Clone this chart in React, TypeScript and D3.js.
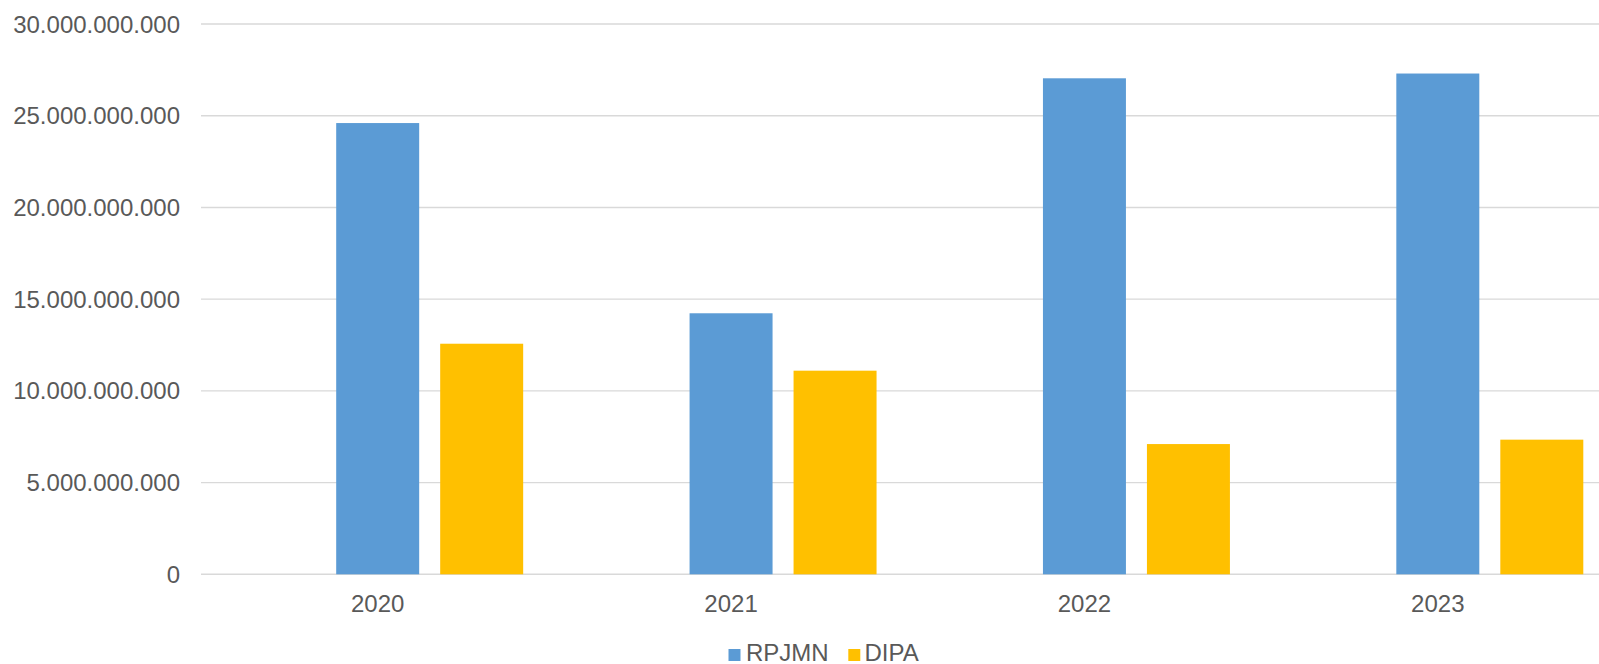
import React from "react";
import * as d3 from "d3";

const categories = ["2020", "2021", "2022", "2023"];
const seriesNames = ["RPJMN", "DIPA"];
const rpjmnValues = [24.6e9, 14.23e9, 27.04e9, 27.3e9];
const dipaValues = [12.57e9, 11.1e9, 7.1e9, 7.34e9];
const yTickValues = [0, 5e9, 10e9, 15e9, 20e9, 25e9, 30e9];
const seriesColors = ["#5B9BD5", "#FFC000"];
// Excel chart has an empty leading series slot, so bars sit right of centre
const seriesSlots = ["_blank", ...seriesNames];

const W = 1599;
const H = 664;
const FONT = "'Liberation Sans', Arial, sans-serif";
const TEXT = "#595959";

export default function App() {
  const x = d3.scaleBand<string>().domain(categories).range([201, 1614.5]).padding(0);
  const inner = d3
    .scaleBand<string>()
    .domain(seriesSlots)
    .range([0, x.bandwidth()])
    .paddingInner(0.202)
    .paddingOuter(0.3);
  const y = d3.scaleLinear().domain([0, 30e9]).range([574.3, 24]);
  const fmt = d3
    .formatLocale({ thousands: ".", decimal: ",", grouping: [3], currency: ["", ""] })
    .format(",.0f");

  const seriesData = [rpjmnValues, dipaValues];

  return (
    <svg
      width={W}
      height={H}
      style={{ position: "absolute", left: 0, top: 0, background: "#fff" }}
      fontFamily={FONT}
    >
      <rect x={0} y={0} width={W} height={H} fill="#fff" />
      {yTickValues.map((t) => (
        <g key={t}>
          <line x1={201} x2={W} y1={y(t)} y2={y(t)} stroke="#d9d9d9" strokeWidth={1.4} />
          <text x={180} y={y(t) + 8.5} textAnchor="end" fontSize={24} fill={TEXT}>
            {fmt(t)}
          </text>
        </g>
      ))}
      {seriesNames.map((s, si) =>
        categories.map((c, ci) => {
          const v = seriesData[si][ci];
          const bx = (x(c) as number) + (inner(s) as number);
          return (
            <rect
              key={s + c}
              x={bx}
              y={y(v)}
              width={inner.bandwidth()}
              height={y(0) - y(v)}
              fill={seriesColors[si]}
            />
          );
        })
      )}
      {categories.map((c) => (
        <text
          key={c}
          x={(x(c) as number) + x.bandwidth() / 2}
          y={611.5}
          textAnchor="middle"
          fontSize={24}
          fill={TEXT}
        >
          {c}
        </text>
      ))}
      <g>
        <rect x={728.5} y={649} width={12} height={12} fill={seriesColors[0]} />
        <text x={746} y={661} fontSize={24} fill={TEXT}>
          {seriesNames[0]}
        </text>
        <rect x={848.3} y={649} width={12} height={12} fill={seriesColors[1]} />
        <text x={864.5} y={661} fontSize={24} fill={TEXT}>
          {seriesNames[1]}
        </text>
      </g>
    </svg>
  );
}
